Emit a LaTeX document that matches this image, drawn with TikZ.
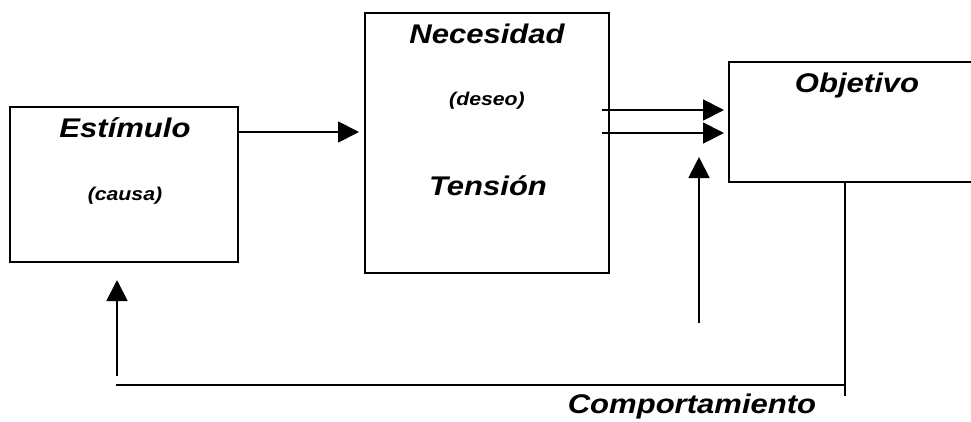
\documentclass[tikz,border=0pt]{standalone}
\usepackage{fontspec}
\setmainfont{Liberation Sans}
\newfontfamily\lab[FakeStretch=1.15]{Liberation Sans}
\usetikzlibrary{arrows.meta}
\begin{document}
\begin{tikzpicture}[x=1pt,y=-1pt,
  box/.style={draw, line width=1.6pt, minimum width=#1, inner sep=0pt},
  big/.style={font=\lab\bfseries\itshape\fontsize{27}{30}\selectfont, inner sep=0pt, anchor=base},
  small/.style={font=\lab\bfseries\itshape\fontsize{18.5}{22}\selectfont, inner sep=0pt, anchor=base},
  arr/.style={line width=1.8pt, -{Triangle[length=21pt,width=21pt]}},
  ln/.style={line width=1.8pt}]
\useasboundingbox (0,0) rectangle (971,421);
\clip (0,0) rectangle (971,421);
% boxes
\node[box=228pt, minimum height=155pt] (est) at (124,184.5) {};
\node[box=244pt, minimum height=260pt] (nec) at (487,143) {};
\node[box=256pt, minimum height=120pt] (obj) at (857,122) {};
% texts
\node[big] (testim) at (125,137) {Estímulo};
\node[small] (tcausa) at (125,200) {(causa)};
\node[big] (tnec) at (487,43) {Necesidad};
\node[small] (tdeseo) at (487,105) {(deseo)};
\node[big] (tten) at (488,195) {Tensión};
\node[big] (tobj) at (857,92) {Objetivo};
\node[big] (tcomp) at (692,413) {Comportamiento};
% coordinates
\coordinate (a1s) at (238,132);
\coordinate (a1e) at (359,132);
\coordinate (a2s) at (602,110);
\coordinate (a2e) at (724,110);
\coordinate (a3s) at (602,133);
\coordinate (a3e) at (724,133);
\coordinate (upS) at (699,323);
\coordinate (upE) at (699,157);
\coordinate (fbTop) at (845,182);
\coordinate (fbBot) at (845,396);
\coordinate (fbR) at (845,385);
\coordinate (fbL) at (116,385);
\coordinate (luS) at (117,376);
\coordinate (luE) at (117,280);
% connectors
\draw[arr] (a1s) -- (a1e);
\draw[arr] (a2s) -- (a2e);
\draw[arr] (a3s) -- (a3e);
\draw[arr] (upS) -- (upE);
\draw[ln] (fbTop) -- (fbBot);
\draw[ln] (fbR) -- (fbL);
\draw[arr] (luS) -- (luE);
\end{tikzpicture}
\end{document}
